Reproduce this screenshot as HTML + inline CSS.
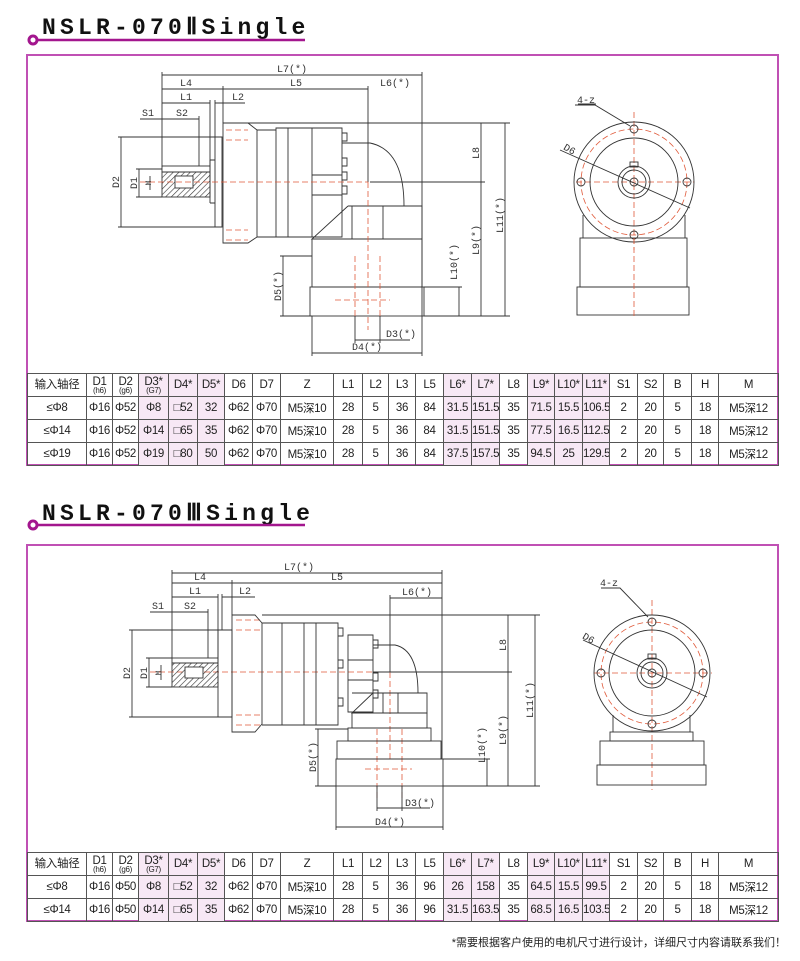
<!DOCTYPE html>
<html><head><meta charset="utf-8"><style>
body{margin:0;background:#fff;width:800px;height:961px;position:relative;overflow:hidden;font-family:"Liberation Sans","Noto Sans CJK SC",sans-serif}
svg{position:absolute;left:0;top:0}
table{position:absolute;left:27px;border-collapse:collapse;table-layout:fixed;font-size:11.5px;color:#222}
td{border:1px solid #555;text-align:center;padding:0;height:22px;overflow:hidden;white-space:nowrap;letter-spacing:-0.3px}
td.p{background:#f7e8f5}
td small{display:block;font-size:8px;line-height:7px}
tr.h td{line-height:10px}
.note{position:absolute;right:14px;top:934px;font-size:11px;color:#222}
</style></head><body>
<svg width="800" height="961" viewBox="0 0 800 961">
<defs>
<pattern id="hat" width="4" height="4" patternUnits="userSpaceOnUse" patternTransform="rotate(45)"><line x1="0" y1="0" x2="0" y2="4" stroke="#333" stroke-width="1.2"/></pattern>
</defs>
<g font-family="Liberation Mono,monospace" font-weight="bold" fill="#111">
<text x="42" y="34" font-size="23" letter-spacing="4.2">NSLR-070ⅡSingle</text>
<text x="42" y="520" font-size="23" letter-spacing="4.2">NSLR-070ⅢSingle</text>
</g>
<g stroke="#a3168e" fill="none">
<line x1="33" y1="40" x2="305" y2="40" stroke-width="2.5"/><circle cx="33" cy="40" r="4" stroke-width="3" fill="#fff"/>
<line x1="33" y1="525" x2="305" y2="525" stroke-width="2.5"/><circle cx="33" cy="525" r="4" stroke-width="3" fill="#fff"/>
</g>
<g stroke="#c050b4" fill="none" stroke-width="2">
<rect x="27" y="55" width="751" height="410"/>
<rect x="27" y="545" width="751" height="376"/>
</g>

<!-- DRAWING 1 -->
<g stroke="#333" stroke-width="0.9" fill="none">
<path d="M162 72V167M422 72V316M162 75H422M162 89H368M223 86V123M368 86V182M162 103H210M215 103H245M210 100V167M215 100V137M140 119H199M199 116V166M118 137H215M118 227H215M121 137V227M136 169H162M136 197H162M139 169V197M150 176V190M248 123H510M370 182H485M424 316H510M424 287H462M481 123V316M505 123V316M459 287V316M280 256H312M280 316H312M283 256V316M355 316V343M380 316V343M355 340H410M312 316V356M422 316V356M312 353H422"/>
<rect x="162" y="166" width="48" height="6"/>
<rect x="162" y="172" width="48" height="25" fill="url(#hat)"/>
<rect x="175" y="176" width="18" height="12" fill="#fff"/>
<path d="M210 160V203M215 137V227H222V137ZM210 160H215M210 203H215"/>
<path d="M223 123H248L257 130V237L248 243H223Z"/>
<path d="M257 130H276V237H257M276 128H312V237H276ZM288 128V237M312 128H342V237H312"/>
<path d="M342 133h5v8h-5M342 158h5v8h-5M342 172h5v8h-5M342 186h5v8h-5M312 175H342M312 195H342"/>
<path d="M342 143H370Q404 150 404 206M348 206H422V239H312L348 206M352 206V239M383 206V239"/>
<rect x="312" y="239" width="110" height="48"/>
<rect x="310" y="287" width="114" height="29"/>
</g>
<g stroke="#e05a3a" stroke-width="0.8" fill="none" stroke-dasharray="6,3">
<path d="M140 182H368M368 182V330M355 256V316M380 256V316M335 300H390M226 130H248M226 140H248M226 230H248M226 240H248"/>
<path d="M576 182H694M634 112V250"/>
<circle cx="634" cy="182" r="53"/>
</g>
<g font-family="Liberation Mono,monospace" font-size="10" fill="#333" text-anchor="middle">
<text x="292" y="72">L7(*)</text><text x="186" y="86">L4</text><text x="296" y="86">L5</text><text x="395" y="86">L6(*)</text>
<text x="186" y="100">L1</text><text x="238" y="100">L2</text><text x="148" y="116">S1</text><text x="182" y="116">S2</text>
<text x="401" y="337">D3(*)</text><text x="367" y="350">D4(*)</text>
<text transform="translate(119,182) rotate(-90)">D2</text><text transform="translate(137,183) rotate(-90)">D1</text><text transform="translate(151,183) rotate(-90)" font-size="8">M</text>
<text transform="translate(479,153) rotate(-90)">L8</text><text transform="translate(479,240) rotate(-90)">L9(*)</text><text transform="translate(503,215) rotate(-90)">L11(*)</text><text transform="translate(457,262) rotate(-90)">L10(*)</text><text transform="translate(281,286) rotate(-90)">D5(*)</text>
<text x="586" y="103">4-z</text><text transform="translate(568,152) rotate(30)">D6</text>
<text x="609" y="586">4-z</text><text transform="translate(587,641) rotate(30)">D6</text>
<text x="299" y="570">L7(*)</text><text x="200" y="580">L4</text><text x="337" y="580">L5</text><text x="417" y="595">L6(*)</text>
<text x="195" y="594">L1</text><text x="245" y="594">L2</text><text x="158" y="609">S1</text><text x="190" y="609">S2</text>
<text x="420" y="806">D3(*)</text><text x="390" y="825">D4(*)</text>
<text transform="translate(130,673) rotate(-90)">D2</text><text transform="translate(147,673) rotate(-90)">D1</text><text transform="translate(161,673) rotate(-90)" font-size="8">M</text>
<text transform="translate(506,645) rotate(-90)">L8</text><text transform="translate(506,730) rotate(-90)">L9(*)</text><text transform="translate(533,700) rotate(-90)">L11(*)</text><text transform="translate(485,745) rotate(-90)">L10(*)</text><text transform="translate(316,757) rotate(-90)">D5(*)</text>
</g>
<g stroke="#333" stroke-width="0.9" fill="none">
<path d="M575 105H595L630 126M560 150L690 208M578 104H596"/>
<circle cx="634" cy="182" r="60"/><circle cx="634" cy="182" r="44"/><circle cx="634" cy="182" r="16"/><circle cx="634" cy="182" r="12"/><circle cx="634" cy="182" r="4"/>
<circle cx="634" cy="129" r="4"/><circle cx="634" cy="235" r="4"/><circle cx="581" cy="182" r="4"/><circle cx="687" cy="182" r="4"/>
<rect x="630" y="162" width="8" height="5"/>
<path d="M583 215V238M685 215V238"/>
<rect x="580" y="238" width="107" height="49"/><rect x="577" y="287" width="112" height="28"/>
</g>
<g stroke="#e05a3a" stroke-width="0.8" fill="none" stroke-dasharray="6,3"><path d="M634 238V318M594 673H712M652 600V790M377 729V800M402 729V800M365 769H412M150 672H390M390 672V760M236 620H260M236 630H260M236 715H260M236 725H260"/><circle cx="652" cy="673" r="51"/></g>

<!-- DRAWING 2 -->
<g stroke="#333" stroke-width="0.9" fill="none">
<path d="M172 570V658M442 570V759M172 573H442M172 583H442M232 580V615M172 597H218M222 597H255M218 594V658M222 594V630M390 598H442M390 595V672M150 612H208M208 609V658M129 630H232M129 717H232M132 630V717M146 658H172M146 687H172M149 658V687M161 665V680M262 615H540M373 672H512M443 786H540M443 759H490M508 615V786M535 615V786M487 759V786M315 729H348M315 786H336M318 729V786M377 786V811M402 786V811M377 808H430M336 786V830M443 786V830M336 827H443"/>
<rect x="172" y="658" width="46" height="5"/>
<rect x="172" y="663" width="46" height="24" fill="url(#hat)"/>
<rect x="185" y="667" width="18" height="11" fill="#fff"/>
<path d="M218 630H232V717H218ZM218 640V707"/>
<path d="M232 615H255L262 623V724L255 732H232Z"/>
<path d="M262 623H338V725H262M282 623V725M304 623V725M316 623V725"/>
<path d="M338 628h5v8h-5M338 660h5v8h-5M338 698h5v8h-5"/>
<path d="M348 635H373V712H348ZM373 640h5v8h-5M373 673h5v8h-5M373 690h5v8h-5M348 660H373M348 680H373"/>
<path d="M373 645H395Q418 650 418 693M352 693H427V713H352L373 693M383 693V713M398 693V713"/>
<rect x="352" y="713" width="75" height="15"/><rect x="348" y="728" width="83" height="13"/><rect x="337" y="741" width="104" height="18"/><rect x="336" y="759" width="107" height="27"/>
</g>
<g stroke="#333" stroke-width="0.9" fill="none">
<path d="M601 588H620L648 617M583 640L707 697"/>
<circle cx="652" cy="673" r="58"/><circle cx="652" cy="673" r="43"/><circle cx="652" cy="673" r="15"/><circle cx="652" cy="673" r="11"/><circle cx="652" cy="673" r="4"/>
<circle cx="652" cy="622" r="4"/><circle cx="652" cy="724" r="4"/><circle cx="601" cy="673" r="4"/><circle cx="703" cy="673" r="4"/>
<rect x="648" y="654" width="8" height="5"/>
<path d="M613 715V732M690 715V732"/>
<rect x="610" y="732" width="83" height="9"/><rect x="600" y="741" width="104" height="24"/><rect x="597" y="765" width="109" height="20"/>
</g>
</svg>

<table style="top:373px;width:751px">
<colgroup><col style="width:59px"><col style="width:26px"><col style="width:26px"><col style="width:30px"><col style="width:29px"><col style="width:27px"><col style="width:28px"><col style="width:28px"><col style="width:53px"><col style="width:29px"><col style="width:26px"><col style="width:27px"><col style="width:28px"><col style="width:28px"><col style="width:28px"><col style="width:28px"><col style="width:27px"><col style="width:28px"><col style="width:27px"><col style="width:28px"><col style="width:26px"><col style="width:28px"><col style="width:27px"><col style="width:60px"></colgroup>
<tr class="h"><td>输入轴径</td><td>D1<small>(h6)</small></td><td>D2<small>(g6)</small></td><td class="p">D3*<small>(G7)</small></td><td class="p">D4*</td><td class="p">D5*</td><td>D6</td><td>D7</td><td>Z</td><td>L1</td><td>L2</td><td>L3</td><td>L5</td><td class="p">L6*</td><td class="p">L7*</td><td>L8</td><td class="p">L9*</td><td class="p">L10*</td><td class="p">L11*</td><td>S1</td><td>S2</td><td>B</td><td>H</td><td>M</td></tr>
<tr><td>≤Φ8</td><td>Φ16</td><td>Φ52</td><td class="p">Φ8</td><td class="p">□52</td><td class="p">32</td><td>Φ62</td><td>Φ70</td><td>M5深10</td><td>28</td><td>5</td><td>36</td><td>84</td><td class="p">31.5</td><td class="p">151.5</td><td>35</td><td class="p">71.5</td><td class="p">15.5</td><td class="p">106.5</td><td>2</td><td>20</td><td>5</td><td>18</td><td>M5深12</td></tr>
<tr><td>≤Φ14</td><td>Φ16</td><td>Φ52</td><td class="p">Φ14</td><td class="p">□65</td><td class="p">35</td><td>Φ62</td><td>Φ70</td><td>M5深10</td><td>28</td><td>5</td><td>36</td><td>84</td><td class="p">31.5</td><td class="p">151.5</td><td>35</td><td class="p">77.5</td><td class="p">16.5</td><td class="p">112.5</td><td>2</td><td>20</td><td>5</td><td>18</td><td>M5深12</td></tr>
<tr><td>≤Φ19</td><td>Φ16</td><td>Φ52</td><td class="p">Φ19</td><td class="p">□80</td><td class="p">50</td><td>Φ62</td><td>Φ70</td><td>M5深10</td><td>28</td><td>5</td><td>36</td><td>84</td><td class="p">37.5</td><td class="p">157.5</td><td>35</td><td class="p">94.5</td><td class="p">25</td><td class="p">129.5</td><td>2</td><td>20</td><td>5</td><td>18</td><td>M5深12</td></tr>
</table>

<table style="top:852px;width:751px">
<colgroup><col style="width:59px"><col style="width:26px"><col style="width:26px"><col style="width:30px"><col style="width:29px"><col style="width:27px"><col style="width:28px"><col style="width:28px"><col style="width:53px"><col style="width:29px"><col style="width:26px"><col style="width:27px"><col style="width:28px"><col style="width:28px"><col style="width:28px"><col style="width:28px"><col style="width:27px"><col style="width:28px"><col style="width:27px"><col style="width:28px"><col style="width:26px"><col style="width:28px"><col style="width:27px"><col style="width:60px"></colgroup>
<tr class="h"><td>输入轴径</td><td>D1<small>(h6)</small></td><td>D2<small>(g6)</small></td><td class="p">D3*<small>(G7)</small></td><td class="p">D4*</td><td class="p">D5*</td><td>D6</td><td>D7</td><td>Z</td><td>L1</td><td>L2</td><td>L3</td><td>L5</td><td class="p">L6*</td><td class="p">L7*</td><td>L8</td><td class="p">L9*</td><td class="p">L10*</td><td class="p">L11*</td><td>S1</td><td>S2</td><td>B</td><td>H</td><td>M</td></tr>
<tr><td>≤Φ8</td><td>Φ16</td><td>Φ50</td><td class="p">Φ8</td><td class="p">□52</td><td class="p">32</td><td>Φ62</td><td>Φ70</td><td>M5深10</td><td>28</td><td>5</td><td>36</td><td>96</td><td class="p">26</td><td class="p">158</td><td>35</td><td class="p">64.5</td><td class="p">15.5</td><td class="p">99.5</td><td>2</td><td>20</td><td>5</td><td>18</td><td>M5深12</td></tr>
<tr><td>≤Φ14</td><td>Φ16</td><td>Φ50</td><td class="p">Φ14</td><td class="p">□65</td><td class="p">35</td><td>Φ62</td><td>Φ70</td><td>M5深10</td><td>28</td><td>5</td><td>36</td><td>96</td><td class="p">31.5</td><td class="p">163.5</td><td>35</td><td class="p">68.5</td><td class="p">16.5</td><td class="p">103.5</td><td>2</td><td>20</td><td>5</td><td>18</td><td>M5深12</td></tr>
</table>
<div class="note">*需要根据客户使用的电机尺寸进行设计，详细尺寸内容请联系我们！</div>
</body></html>
